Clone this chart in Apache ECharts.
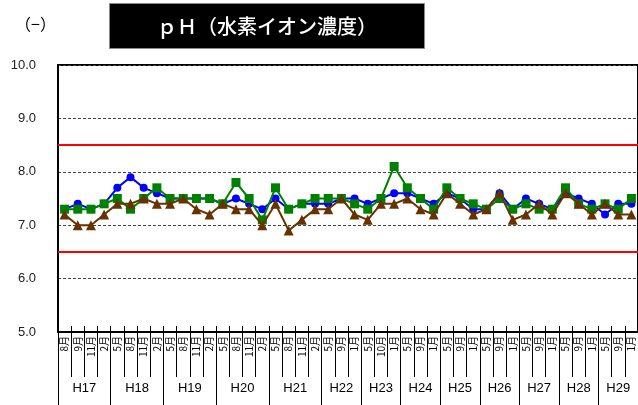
<!DOCTYPE html>
<html><head><meta charset="utf-8">
<script src="https://cdn.jsdelivr.net/npm/echarts@6/dist/echarts.min.js"></script>
<style>html,body{margin:0;padding:0;background:#fff}#c{width:638px;height:405px}</style>
</head><body><div id="c"></div>
<script>
const years = ['H17','H18','H19','H20','H21','H22','H23','H24','H25','H26','H27','H28','H29'];
const yearMonths = [
  ['8月','9月','11月','2月'],
  ['5月','8月','11月','2月'],
  ['5月','8月','11月','2月'],
  ['5月','8月','11月','2月'],
  ['5月','8月','11月','2月'],
  ['5月','9月','1月'],
  ['5月','10月','1月'],
  ['5月','9月','1月'],
  ['5月','9月','1月'],
  ['5月','9月','1月'],
  ['5月','9月','1月'],
  ['5月','9月','1月'],
  ['5月','9月','1月']
];
const seriesBlue  = [7.3,7.4,7.3,7.4,7.7,7.9,7.7,7.6,7.5,7.5,7.5,7.5,7.4,7.5,7.4,7.3,7.5,7.3,7.4,7.4,7.4,7.5,7.5,7.4,7.5,7.6,7.6,7.5,7.4,7.6,7.5,7.3,7.3,7.6,7.3,7.5,7.4,7.3,7.6,7.5,7.4,7.2,7.4,7.4];
const seriesGreen = [7.3,7.3,7.3,7.4,7.5,7.3,7.5,7.7,7.5,7.5,7.5,7.5,7.4,7.8,7.5,7.1,7.7,7.3,7.4,7.5,7.5,7.5,7.4,7.3,7.5,8.1,7.7,7.5,7.3,7.7,7.5,7.4,7.3,7.5,7.3,7.4,7.3,7.3,7.7,7.4,7.3,7.4,7.3,7.5];
const seriesBrown = [7.2,7.0,7.0,7.2,7.4,7.4,7.5,7.4,7.4,7.5,7.3,7.2,7.4,7.3,7.3,7.0,7.4,6.9,7.1,7.3,7.3,7.5,7.2,7.1,7.4,7.4,7.5,7.3,7.2,7.6,7.4,7.2,7.3,7.6,7.1,7.2,7.4,7.2,7.6,7.4,7.2,7.4,7.2,7.2];
const limits = [8.5, 6.5];
const yTicks = [5, 6, 7, 8, 9, 10];

const months = [].concat(...yearMonths);
const boundaries = [0];
const centers = [];
let acc = 0;
yearMonths.forEach(m => { centers.push(acc + m.length / 2); acc += m.length; boundaries.push(acc); });

const FONT = 'Liberation Sans, Noto Sans CJK JP, sans-serif';
const chart = echarts.init(document.getElementById('c'), null, {renderer: 'canvas'});
chart.setOption({
  animation: false,
  title: [
    {text: 'ｐＨ（水素イオン濃度）', left: 109, top: 3, backgroundColor: '#000', borderColor: '#888', borderWidth: 1,
     padding: [11, 48, 11, 48],
     textStyle: {color: '#fff', fontSize: 20, fontWeight: 500, fontFamily: 'Noto Sans CJK JP', lineHeight: 24}},
    {text: '（−）', left: 10, top: 11, textStyle: {color: '#000', fontSize: 16, fontWeight: 'normal', fontFamily: 'Noto Sans CJK JP'}}
  ],
  grid: {left: 58, top: 65, width: 582, height: 267, show: true, borderColor: '#000', borderWidth: 2, backgroundColor: 'transparent'},
  xAxis: [
    {type: 'category', data: months, position: 'bottom', boundaryGap: true,
     axisLine: {show: true, lineStyle: {color: '#000', width: 2}},
     axisTick: {show: true, interval: 0, length: 45, lineStyle: {color: '#000', width: 1}},
     axisLabel: {interval: 0, rotate: 90, fontSize: 10, margin: 4, color: '#000', fontFamily: 'Noto Sans CJK JP'},
     splitLine: {show: false}},
    {type: 'value', min: 0, max: months.length, position: 'bottom',
     axisLine: {show: false},
     axisTick: {show: true, customValues: boundaries, length: 73, lineStyle: {color: '#000', width: 1}},
     axisLabel: {customValues: centers, margin: 50, fontSize: 13, color: '#000', fontFamily: FONT,
       formatter: v => { const k = centers.findIndex(c => Math.abs(c - v) < 1e-6); return k >= 0 ? years[k] : ''; }},
     splitLine: {show: false}},
    {type: 'category', data: months, position: 'bottom', boundaryGap: true,
     axisLine: {show: false},
     axisTick: {show: true, inside: true, interval: 0, length: 6, lineStyle: {color: '#000', width: 1}},
     axisLabel: {show: false}, splitLine: {show: false}}
  ],
  yAxis: {type: 'value', min: yTicks[0], max: yTicks[yTicks.length - 1], interval: 1,
    axisLine: {show: true, lineStyle: {color: '#000', width: 2}},
    axisTick: {show: false},
    axisLabel: {formatter: v => v.toFixed(1), fontSize: 13, color: '#222', margin: 22, fontFamily: FONT},
    splitLine: {show: true, lineStyle: {color: '#444', type: [3, 2], width: 1}}},
  series: [
    {name: '地点1', type: 'line', data: seriesBlue, symbol: 'circle', symbolSize: 8,
     lineStyle: {color: '#0000ff', width: 2}, itemStyle: {color: '#0000ff'}, z: 2,
     markLine: {silent: true, symbol: 'none', label: {show: false},
       lineStyle: {color: '#ff0000', width: 2, type: 'solid'},
       data: limits.map(v => ({yAxis: v}))}},
    {name: '地点2', type: 'line', data: seriesGreen, symbol: 'rect', symbolSize: 9,
     lineStyle: {color: '#008000', width: 2}, itemStyle: {color: '#008000'}, z: 3},
    {name: '地点3', type: 'line', data: seriesBrown, symbol: 'triangle', symbolSize: 10,
     lineStyle: {color: '#663300', width: 2}, itemStyle: {color: '#663300'}, z: 4}
  ]
});
</script></body></html>
